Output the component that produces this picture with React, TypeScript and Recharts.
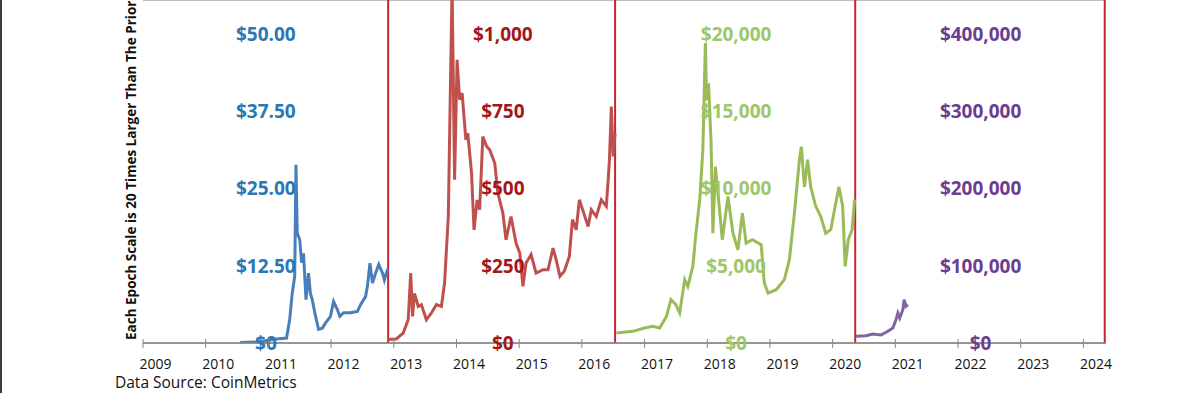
import React from 'react';
import { ComposedChart, Line, XAxis, YAxis, CartesianGrid, ReferenceLine, ReferenceDot } from 'recharts';

// x values are decimal years, prices in USD
const e1Dates = [2010.55, 2010.82, 2011.13, 2011.29, 2011.34, 2011.38, 2011.42, 2011.44, 2011.46, 2011.5, 2011.53, 2011.56, 2011.6, 2011.64, 2011.67, 2011.7, 2011.74, 2011.8, 2011.86, 2011.91, 2011.99, 2012.04, 2012.1, 2012.14, 2012.2, 2012.31, 2012.42, 2012.47, 2012.55, 2012.58, 2012.62, 2012.66, 2012.71, 2012.76, 2012.82, 2012.85, 2012.89, 2012.91];
const e1Prices = [0.1, 0.15, 0.65, 0.8, 3.8, 8, 10.8, 28.8, 17.8, 16.7, 13, 14.5, 7, 11.3, 8, 7, 4.9, 2.2, 2.4, 3.2, 4.3, 6.7, 5.4, 4.3, 4.9, 4.9, 5.1, 6.2, 7.5, 9.2, 12.9, 9.7, 11.3, 12.7, 11.3, 10.2, 11.6, 12];

const e2Dates = [2012.91, 2013.04, 2013.15, 2013.23, 2013.27, 2013.3, 2013.33, 2013.39, 2013.44, 2013.52, 2013.6, 2013.68, 2013.76, 2013.81, 2013.87, 2013.9, 2013.93, 2013.97, 2014.01, 2014.05, 2014.09, 2014.15, 2014.18, 2014.24, 2014.28, 2014.33, 2014.37, 2014.42, 2014.48, 2014.53, 2014.61, 2014.66, 2014.74, 2014.79, 2014.87, 2014.95, 2015.01, 2015.06, 2015.11, 2015.19, 2015.27, 2015.38, 2015.46, 2015.54, 2015.59, 2015.65, 2015.72, 2015.8, 2015.85, 2015.91, 2015.96, 2016.03, 2016.1, 2016.15, 2016.23, 2016.31, 2016.39, 2016.42, 2016.44, 2016.47, 2016.5, 2016.53];
const e2Prices = [11, 13, 32, 75, 226, 86, 160, 118, 124, 75, 97, 124, 118, 194, 410, 787, 1150, 528, 916, 787, 808, 657, 679, 550, 366, 463, 431, 668, 636, 625, 582, 485, 420, 334, 409, 323, 291, 183, 259, 286, 226, 237, 237, 307, 269, 216, 232, 280, 399, 366, 463, 420, 377, 431, 409, 463, 442, 528, 593, 765, 603, 679];

const e3Dates = [2016.55, 2016.81, 2017.0, 2017.13, 2017.24, 2017.35, 2017.42, 2017.5, 2017.56, 2017.64, 2017.69, 2017.77, 2017.82, 2017.88, 2017.93, 2017.97, 2017.99, 2018.02, 2018.06, 2018.09, 2018.13, 2018.18, 2018.24, 2018.33, 2018.41, 2018.49, 2018.56, 2018.62, 2018.72, 2018.86, 2018.91, 2018.97, 2019.1, 2019.23, 2019.31, 2019.39, 2019.47, 2019.5, 2019.55, 2019.6, 2019.65, 2019.73, 2019.81, 2019.89, 2019.97, 2020.05, 2020.1, 2020.16, 2020.2, 2020.25, 2020.31, 2020.35];
const e3Prices = [650, 754, 970, 1078, 970, 1724, 2800, 2480, 1940, 4100, 3660, 4960, 7100, 9270, 12500, 19400, 15700, 16800, 13100, 7100, 11400, 9270, 6680, 9480, 7100, 6030, 8400, 6460, 6680, 6360, 3880, 3230, 3450, 4100, 5390, 8400, 11850, 12700, 10100, 11850, 10100, 8840, 8190, 7100, 7330, 9050, 10100, 8840, 4960, 6680, 7330, 9270];

const e4Dates = [2020.37, 2020.53, 2020.64, 2020.77, 2020.88, 2020.96, 2021.01, 2021.04, 2021.07, 2021.12, 2021.14, 2021.17, 2021.2];
const e4Prices = [8600, 9480, 11600, 10300, 15100, 19400, 30200, 38800, 32300, 43100, 56000, 47400, 49600];

const epochScales = [12.5, 250, 5000, 100000];
const epochColors = ['#4a7ebb', '#c0504d', '#9bbb59', '#8064a2'];
const labelColors = ['#2b78b4', '#a5161b', '#9dc768', '#6b3e92'];
const labelYears = [2010.96, 2014.74, 2018.46, 2022.36];
const epochLabels = [
  ['$0', '$12.50', '$25.00', '$37.50', '$50.00'],
  ['$0', '$250', '$500', '$750', '$1,000'],
  ['$0', '$5,000', '$10,000', '$15,000', '$20,000'],
  ['$0', '$100,000', '$200,000', '$300,000', '$400,000'],
];
const yearTicks = [2009, 2010, 2011, 2012, 2013, 2014, 2015, 2016, 2017, 2018, 2019, 2020, 2021, 2022, 2023, 2024];
const halvings = [2012.91, 2016.53, 2020.36, 2024.34];

const epochs = [
  [e1Dates, e1Prices],
  [e2Dates, e2Prices],
  [e3Dates, e3Prices],
  [e4Dates, e4Prices],
].map(([dates, prices], i) =>
  dates.map((d, j) => ({ x: d, y: prices[j] / epochScales[i] }))
);

const labelData = epochLabels.flatMap((labels, i) =>
  labels.map((text, k) => ({ x: labelYears[i], y: k, text, color: labelColors[i] }))
);

const YearTick = (props: any) => {
  const { x, y, payload } = props;
  return (
    <g>
      <line x1={x} x2={x} y1={y - 4} y2={y + 5} stroke="#888" strokeWidth={1} />
      <text x={x + 12.5} y={y + 26} textAnchor="middle" fontSize={14} fill="#111" fontFamily="'Open Sans', sans-serif">
        {payload.value}
      </text>
    </g>
  );
};

const priceLabel = (text: string, color: string) => (props: any) => (
  <text x={props.cx} y={props.cy} dy="0.36em" textAnchor="middle" fontSize={19} fontWeight="bold" fill={color} fontFamily="'Open Sans', sans-serif">
    {text}
  </text>
);

export default function App() {
  return (
    <div style={{ position: 'absolute', left: 0, top: 0, width: 1180, height: 393, background: '#fff', overflow: 'hidden' }}>
      <div style={{ position: 'absolute', left: 0, top: 0, width: 2, height: 393, background: '#3a3a3a' }} />
      <ComposedChart width={1180} height={393} margin={{ top: 0, right: 74, bottom: 20, left: 143 }}>
        <CartesianGrid vertical={false} stroke="#a6a6a6" strokeWidth={1.3} />
        <XAxis
          type="number"
          dataKey="x"
          domain={[2009, 2024.36]}
          ticks={yearTicks}
          allowDataOverflow
          height={30}
          tickSize={0}
          tickMargin={0}
          tickLine={false}
          axisLine={{ stroke: '#888', strokeWidth: 1.3 }}
          tick={<YearTick />}
          interval={0}
        />
        <YAxis
          type="number"
          dataKey="y"
          domain={[0, 4.437]}
          ticks={[0, 1, 2, 3, 4]}
          allowDataOverflow
          width={0}
          tick={false}
          tickLine={false}
          axisLine={{ stroke: '#888', strokeWidth: 1.3 }}
        />
        {labelData.map((d) => (
          <ReferenceDot
            key={d.text + d.x}
            x={d.x}
            y={d.y}
            r={1}
            ifOverflow="visible"
            shape={priceLabel(d.text, d.color)}
          />
        ))}
        {halvings.map((h) => (
          <ReferenceLine key={h} x={h} stroke="#c0282d" strokeWidth={2} />
        ))}
        {epochs.map((pts, i) => (
          <Line
            key={i}
            data={pts}
            dataKey="y"
            type="linear"
            stroke={epochColors[i]}
            strokeWidth={3}
            dot={false}
            isAnimationActive={false}
          />
        ))}
      </ComposedChart>
      <svg style={{ position: 'absolute', left: 0, top: 0 }} width={1180} height={393}>
        <text
          transform="translate(136,340) rotate(-90)"
          fontSize={13.5}
          fontWeight="bold"
          fill="#111"
          fontFamily="'Open Sans', sans-serif"
        >
          Each Epoch Scale is 20 Times Larger Than The Prior Epoch
        </text>
        <text x={115} y={388} fontSize={15.5} fill="#111" fontFamily="'Open Sans', sans-serif">
          Data Source: CoinMetrics
        </text>
      </svg>
    </div>
  );
}
